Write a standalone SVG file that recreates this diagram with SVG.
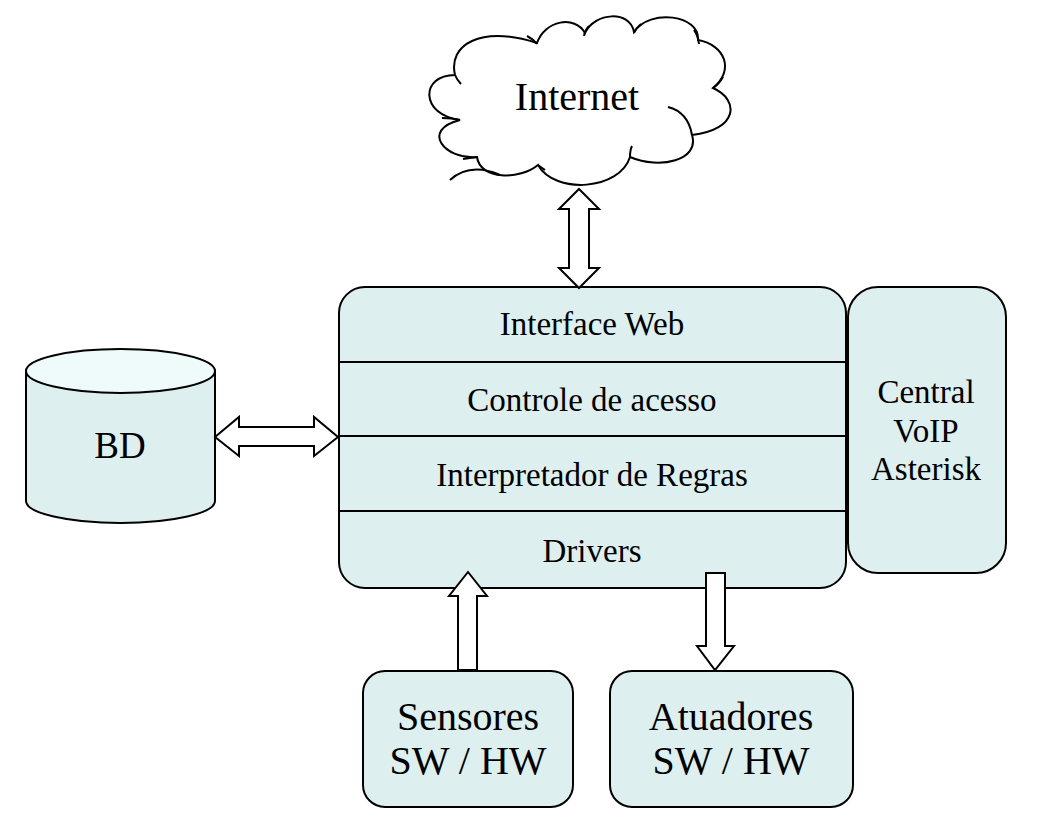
<svg xmlns="http://www.w3.org/2000/svg" width="1044" height="828" viewBox="0 0 1044 828">
<style>
.box{fill:#deefef;stroke:#000;stroke-width:2}
.line{stroke:#000;stroke-width:2;fill:none}
.arrow{fill:#fff;stroke:#000;stroke-width:2;stroke-linejoin:miter}
.t{font-family:"Liberation Serif","Times New Roman",serif;fill:#000;text-anchor:middle}
.t33{font-size:33px}
.t40{font-size:40px}
</style>
<rect width="1044" height="828" fill="#fff"/>
<g id="internet">
<path class="line" style="fill:#fff" d="M455,75 C448,45 480,25 537,43 C545,20 575,15 585,33 C595,12 630,10 634,32 C650,8 700,15 698,40 C725,45 735,70 713,88 C740,100 738,130 692,135 C700,160 660,170 630,157 C620,190 555,195 538,165 C520,180 480,180 477,157 C445,160 420,130 460,120 C420,115 420,75 455,75 Z"/>
<path class="line" d="M455,75 Q457,80 461,84 M527,36 Q533,39 537,44 M589,26 Q585,30 584,36 M641,24 Q636,28 634,33 M694,30 Q698,36 699,44 M723,77 Q719,84 713,88 M668,107 Q688,112 692,135 M630,157 Q630,150 632,146 M538,165 Q542,168 545,170 M477,157 Q470,158 463,159 M460,120 Q452,118 442,118 M450,180 Q470,162 500,175"/>
<text class="t t40" x="577" y="110">Internet</text>
</g>
<g id="bd">
<path class="box" d="M26,371 L26,501 A94.5,22 0 0 0 215,501 L215,371"/>
<ellipse cx="120.5" cy="371" rx="94.5" ry="22" fill="#effafa" stroke="#000" stroke-width="2"/>
<text class="t" style="font-size:37px" x="120" y="458">BD</text>
</g>
<g id="main">
<rect class="box" x="339" y="287" width="507" height="301" rx="26"/>
<line class="line" x1="339" y1="362" x2="846" y2="362"/>
<line class="line" x1="339" y1="436" x2="846" y2="436"/>
<line class="line" x1="339" y1="511" x2="846" y2="511"/>
<text class="t t33" x="592" y="335">Interface Web</text>
<text class="t t33" x="592" y="411">Controle de acesso</text>
<text class="t t33" x="592" y="486">Interpretador de Regras</text>
<text class="t t33" x="592" y="562">Drivers</text>
</g>
<g id="voip">
<rect class="box" x="848" y="287" width="158" height="286" rx="30"/>
<text class="t t33" x="926" y="403">Central</text>
<text class="t t33" x="926" y="442">VoIP</text>
<text class="t t33" x="926" y="480">Asterisk</text>
</g>
<g id="sensores">
<rect class="box" x="363" y="671" width="210" height="136" rx="22"/>
<text class="t t40" x="468" y="730">Sensores</text>
<text class="t t40" x="468" y="774">SW / HW</text>
</g>
<g id="atuadores">
<rect class="box" x="610" y="671" width="243" height="136" rx="22"/>
<text class="t t40" x="731" y="730">Atuadores</text>
<text class="t t40" x="731" y="774">SW / HW</text>
</g>
<g id="connectors">
<path class="arrow" d="M579,189 L599,209 L589,209 L589,268 L599,268 L579,288 L559,268 L569,268 L569,209 L559,209 Z"/>
<path class="arrow" d="M215,437 L239,417 L239,427 L314,427 L314,417 L338,437 L314,456 L314,446 L239,446 L239,456 Z"/>
<path class="arrow" d="M468,572 L487,596 L477,596 L477,670 L458,670 L458,596 L449,596 Z"/>
<path class="arrow" d="M706,573 L725,573 L725,646 L734,646 L715,670 L697,646 L706,646 Z"/>
</g>
</svg>
